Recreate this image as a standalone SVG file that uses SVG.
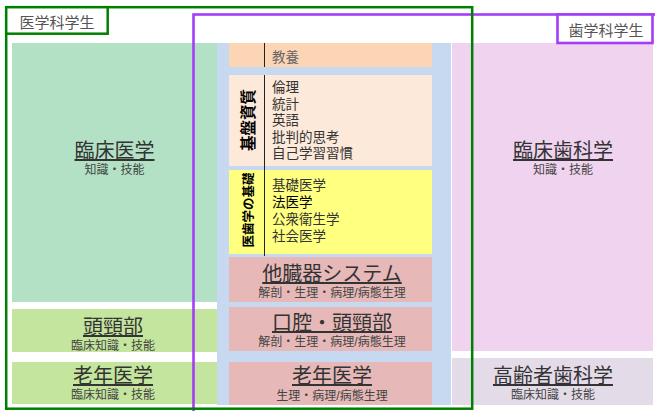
<svg xmlns="http://www.w3.org/2000/svg" width="655" height="411" viewBox="0 0 655 411">
<style>
text{font-family:"Liberation Sans","Noto Sans CJK JP",sans-serif;}
.t{font-size:20px;fill:#333;text-anchor:middle;text-decoration:underline;}
.s{font-size:12px;fill:#444;text-anchor:middle;}
.l{font-size:13.5px;fill:#333;}
.v{font-weight:bold;fill:#000;text-anchor:middle;}
.div{stroke:#222;stroke-width:1;}
.lab{font-size:15px;fill:#555;text-anchor:middle;}
</style>
<rect width="655" height="411" fill="#fff"/>
<g id="bg-center"><rect x="217" y="43" width="234" height="362" fill="#c6d9f1"/></g>
<g id="rinsho-igaku">
<rect x="12" y="43" width="205" height="259" fill="#b3e1c5"/>
<text class="t" x="114.5" y="158">臨床医学</text>
<text class="s" x="114.5" y="174">知識・技能</text>
</g>
<g id="tokeibu-left">
<rect x="12" y="309" width="205" height="43" fill="#c4e59d"/>
<text class="t" x="113" y="334">頭頸部</text>
<text class="s" x="113" y="350">臨床知識・技能</text>
</g>
<g id="ronen-left">
<rect x="12" y="362" width="205" height="42" fill="#c4e59d"/>
<text class="t" x="113" y="383">老年医学</text>
<text class="s" x="113" y="399">臨床知識・技能</text>
</g>
<g id="kyoyo">
<rect x="229" y="43" width="203" height="24" fill="#fcd5b4"/>
<line class="div" x1="264.5" y1="43" x2="264.5" y2="67"/>
<text class="l" x="272" y="62" style="fill:#666">教養</text>
</g>
<g id="kiban">
<rect x="229" y="75" width="203" height="91" fill="#fde9d9"/>
<line class="div" x1="264.5" y1="75" x2="264.5" y2="168"/>
<text class="v" font-size="15.5" transform="translate(253.5,120) rotate(-90)">基盤資質</text>
<text class="l" x="272" y="92">倫理</text>
<text class="l" x="272" y="108.5">統計</text>
<text class="l" x="272" y="125">英語</text>
<text class="l" x="272" y="141.5">批判的思考</text>
<text class="l" x="272" y="158">自己学習習慣</text>
</g>
<g id="kiso">
<rect x="229" y="170" width="203" height="84" fill="#ffff80"/>
<line class="div" x1="264.5" y1="168" x2="264.5" y2="256"/>
<text class="v" font-size="12.5" transform="translate(252.5,210) rotate(-90)">医歯学の基礎</text>
<text class="l" x="272" y="190">基礎医学</text>
<text class="l" x="272" y="207" style="fill:#000">法医学</text>
<text class="l" x="272" y="224">公衆衛生学</text>
<text class="l" x="272" y="241">社会医学</text>
</g>
<g id="tazouki">
<rect x="229" y="257" width="203" height="45" fill="#e6b9b8"/>
<text class="t" x="332" y="281">他臓器システム</text>
<text class="s" x="332" y="297">解剖・生理・病理/病態生理</text>
</g>
<g id="koukuu">
<rect x="229" y="307" width="203" height="44" fill="#e6b9b8"/>
<text class="t" x="332" y="330">口腔・頭頸部</text>
<text class="s" x="332" y="346">解剖・生理・病理/病態生理</text>
</g>
<g id="ronen-center">
<rect x="229" y="362" width="203" height="43" fill="#e6b9b8"/>
<text class="t" x="332" y="383">老年医学</text>
<text class="s" x="332" y="400">生理・病理/病態生理</text>
</g>
<g id="rinsho-shika">
<rect x="452" y="43" width="201" height="308" fill="#efd3ef"/>
<text class="t" x="563" y="158">臨床歯科学</text>
<text class="s" x="563" y="174">知識・技能</text>
</g>
<g id="koureisha">
<rect x="452" y="358" width="201" height="47" fill="#e4dbe9"/>
<text class="t" x="553" y="383">高齢者歯科学</text>
<text class="s" x="553" y="399">臨床知識・技能</text>
</g>
<g id="shigaku-frame">
<rect x="193.5" y="14.5" width="480" height="420" fill="none" stroke="#a43df7" stroke-width="2.6"/>
<rect x="557.5" y="14.5" width="95" height="28.5" fill="#fff" stroke="#a43df7" stroke-width="2.6"/>
<text class="lab" x="606" y="36">歯学科学生</text>
</g>
<g id="igaku-frame">
<rect x="6.2" y="7.2" width="466" height="401.5" fill="none" stroke="#008000" stroke-width="2.5"/>
<rect x="6.2" y="7.2" width="101.5" height="26.5" fill="#fff" stroke="#008000" stroke-width="2.5"/>
<text class="lab" x="57" y="28">医学科学生</text>
</g>
<g id="connectors"></g>
</svg>
